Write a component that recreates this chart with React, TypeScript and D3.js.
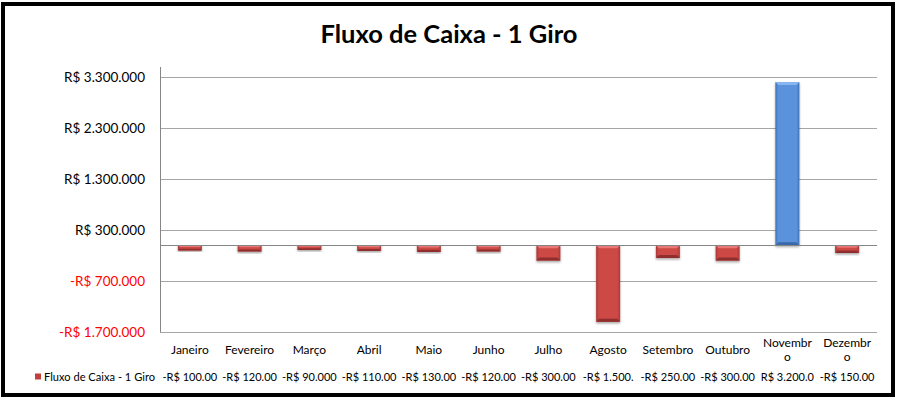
import React, { useEffect, useRef } from "react";
import * as d3 from "d3";

const title = "Fluxo de Caixa - 1 Giro";
const seriesName = "Fluxo de Caixa - 1 Giro";
const months = ["Janeiro", "Fevereiro", "Março", "Abril", "Maio", "Junho", "Julho", "Agosto", "Setembro", "Outubro", "Novembro", "Dezembro"];
const values = [-100000, -120000, -90000, -110000, -130000, -120000, -300000, -1500000, -250000, -300000, 3200000, -150000];
const tickValues = [-1700000, -700000, 300000, 1300000, 2300000, 3300000];
const yMin = -1700000;
const yMax = 3500000;

const W = 897;
const H = 398;
const FONT = "Lato, 'Open Sans', sans-serif";

function fmtBR(v: number): string {
  const abs = Math.abs(v);
  const s = d3.format(",")(abs).replace(/,/g, ".");
  return (v < 0 ? "-" : "") + "R$ " + s;
}

export default function App() {
  const ref = useRef<SVGSVGElement>(null);

  useEffect(() => {
    const svg = d3.select(ref.current!);
    svg.selectAll("*").remove();

    const left = 160;
    const right = 877;
    const top = 66.8;
    const bottom = 332;

    const x = d3.scaleBand<string>().domain(months).range([left, right]).paddingInner(0).paddingOuter(0);
    const y = d3.scaleLinear().domain([yMin, yMax]).range([bottom, top]);

    svg.append("rect").attr("x", 0).attr("y", 0).attr("width", W).attr("height", H).attr("fill", "#fff");

    const defs = svg.append("defs");
    const mkGrad = (id: string, edge: string, mid: string) => {
      const g = defs.append("linearGradient").attr("id", id).attr("x1", 0).attr("x2", 1).attr("y1", 0).attr("y2", 0);
      g.append("stop").attr("offset", "0").attr("stop-color", edge);
      g.append("stop").attr("offset", "0.12").attr("stop-color", mid);
      g.append("stop").attr("offset", "0.88").attr("stop-color", mid);
      g.append("stop").attr("offset", "1").attr("stop-color", edge);
    };
    mkGrad("gRed", "#a83b39", "#cd4845");
    mkGrad("gBlue", "#3f70b5", "#5a93dc");
    const f = defs.append("filter").attr("id", "shadow").attr("x", "-30%").attr("y", "-30%").attr("width", "160%").attr("height", "160%");
    f.append("feDropShadow").attr("dx", 0).attr("dy", 1.5).attr("stdDeviation", 1.2).attr("flood-color", "#000").attr("flood-opacity", 0.35);

    const g = svg.append("g");
    tickValues.forEach((t) => {
      g.append("line").attr("x1", left).attr("x2", right).attr("y1", y(t)).attr("y2", y(t))
        .attr("stroke", "#a6a6a6").attr("stroke-width", 1).attr("shape-rendering", "crispEdges");
    });

    g.append("line").attr("x1", left).attr("x2", left).attr("y1", top).attr("y2", bottom)
      .attr("stroke", "#868686").attr("shape-rendering", "crispEdges");

    tickValues.forEach((t) => {
      svg.append("text").attr("x", 145).attr("y", y(t)).attr("dy", "0.35em")
        .attr("text-anchor", "end").attr("font-family", FONT).attr("font-size", 13.5)
        .attr("fill", t < 0 ? "#ff0000" : "#000").text(fmtBR(t));
    });

    const bw = 24;
    months.forEach((m, i) => {
      const v = values[i];
      const cx = x(m)! + x.bandwidth() / 2;
      const y0 = y(0);
      const y1 = y(v);
      const yt = Math.min(y0, y1);
      const h = Math.abs(y1 - y0);
      const neg = v < 0;
      const bar = svg.append("g").attr("filter", "url(#shadow)");
      bar.append("rect").attr("x", cx - bw / 2).attr("y", yt).attr("width", bw).attr("height", h)
        .attr("fill", neg ? "url(#gRed)" : "url(#gBlue)");
      const bev = Math.min(3, h / 3);
      bar.append("path")
        .attr("d", `M${cx - bw / 2},${yt} L${cx + bw / 2},${yt} L${cx + bw / 2 - bev},${yt + bev} L${cx - bw / 2 + bev},${yt + bev} Z`)
        .attr("fill", neg ? "#e87774" : "#86b6f0");
      bar.append("path")
        .attr("d", `M${cx - bw / 2},${yt + h} L${cx + bw / 2},${yt + h} L${cx + bw / 2 - bev},${yt + h - bev} L${cx - bw / 2 + bev},${yt + h - bev} Z`)
        .attr("fill", neg ? "#8e2f2d" : "#3a68a8");
    });

    svg.append("line").attr("x1", left).attr("x2", right).attr("y1", y(0)).attr("y2", y(0))
      .attr("stroke", "#868686").attr("shape-rendering", "crispEdges");

    const catSize = 12;
    months.forEach((m) => {
      const cx = x(m)! + x.bandwidth() / 2;
      const t = svg.append("text").attr("x", cx).attr("y", 354).attr("text-anchor", "middle")
        .attr("font-family", FONT).attr("font-size", catSize).attr("fill", "#000").text(m);
      const node = t.node() as SVGTextElement;
      if (node.getComputedTextLength() > 53) {
        let i = m.length - 1;
        t.text(m.slice(0, i));
        while (i > 1 && node.getComputedTextLength() > 53) {
          i--;
          t.text(m.slice(0, i));
        }
        t.attr("y", 347);
        svg.append("text").attr("x", cx).attr("y", 361).attr("text-anchor", "middle")
          .attr("font-family", FONT).attr("font-size", catSize).attr("fill", "#000").text(m.slice(i));
      }
    });

    const valSize = 11;
    months.forEach((m, i) => {
      const cx = x(m)! + x.bandwidth() / 2;
      const full = fmtBR(values[i]);
      const t = svg.append("text").attr("x", cx).attr("y", 381).attr("text-anchor", "middle")
        .attr("font-family", FONT).attr("font-size", valSize).attr("fill", "#000").text(full);
      const node = t.node() as SVGTextElement;
      let s = full;
      while (s.length > 1 && node.getComputedTextLength() > 55.5) {
        s = s.slice(0, -1);
        t.text(s);
      }
    });

    svg.append("rect").attr("x", 35).attr("y", 373.5).attr("width", 6).attr("height", 6).attr("fill", "#c0403d");
    svg.append("text").attr("x", 44).attr("y", 381).attr("font-family", FONT).attr("font-size", 11.5)
      .attr("fill", "#000").attr("textLength", 111).attr("lengthAdjust", "spacingAndGlyphs").text(seriesName);

    svg.append("text").attr("x", 449).attr("y", 43).attr("text-anchor", "middle")
      .attr("font-family", FONT).attr("font-size", 25.5).attr("font-weight", "bold").attr("fill", "#000").text(title);

    svg.append("rect").attr("x", 3).attr("y", 4).attr("width", 890).attr("height", 391)
      .attr("fill", "none").attr("stroke", "#000").attr("stroke-width", 4);
  }, []);

  return (
    <div style={{ position: "absolute", left: 0, top: 0 }}>
      <svg ref={ref} width={W} height={H} style={{ display: "block" }} />
    </div>
  );
}
